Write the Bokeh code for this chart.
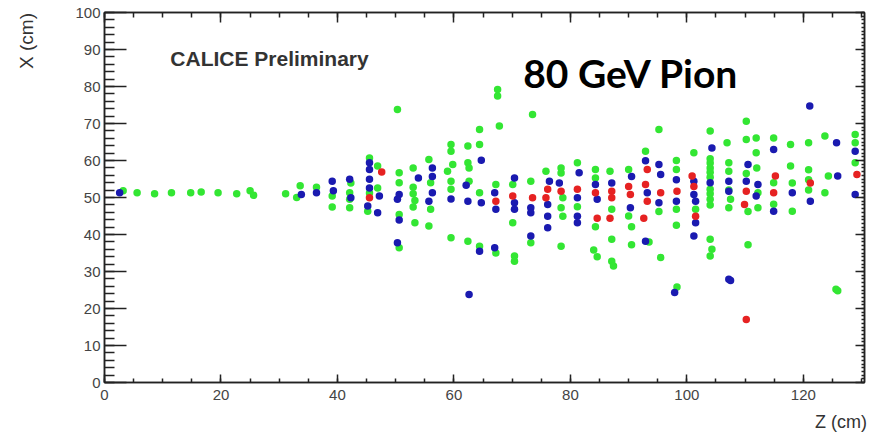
from bokeh.plotting import figure
from bokeh.models import (Range1d, SingleIntervalTicker, LinearAxis, Label,
                          CustomLabelingPolicy)
from bokeh.embed import file_html
from bokeh.resources import INLINE

# ---- data: hits (Z cm, X cm) per energy class ----
green_z = [3.2, 5.6, 8.6, 11.5, 14.8, 16.6, 19.5, 22.7, 25.0, 25.6, 31.1, 33.6, 33.0, 36.4,
           39.1, 39.1,
           42.3, 42.1, 42.1, 42.1,
           45.5, 45.5, 45.2,
           46.9, 46.9,
           50.3, 50.6, 50.6, 50.6, 50.6,
           53.0, 53.0, 53.0, 53.3, 53.0, 53.3,
           55.7, 56.0, 56.0, 55.7,
           59.5, 59.5, 59.8, 58.9, 59.5, 59.5, 59.5,
           62.4, 62.4, 62.6, 62.6, 62.4,
           64.4, 64.4, 64.4, 64.4,
           67.5, 67.5, 67.8, 67.2, 67.2,
           70.1, 70.1, 70.4, 70.4,
           73.5, 73.2, 73.2,
           75.8,
           78.4, 78.4, 78.7, 78.4, 78.7, 78.4,
           81.2, 81.2,
           84.3, 84.3, 84.3, 84.0, 84.6,
           86.8, 87.1, 87.1, 87.1, 87.4,
           90.0, 90.0, 90.5, 90.5,
           92.9, 93.5,
           95.2, 95.2, 95.5,
           98.2, 98.2, 98.2, 98.2, 98.3,
           101.2, 101.5,
           104.0, 104.0, 104.0, 104.0, 104.0, 104.0, 104.0, 104.3, 104.0, 104.0, 104.0, 104.0, 104.0,
           106.9, 107.2, 107.2, 107.5, 107.2, 107.2,
           110.2, 110.2, 110.5, 110.5, 110.2,
           111.9, 111.9, 112.2, 112.2, 112.0,
           114.9, 114.9, 114.9,
           117.8, 118.1, 118.1, 117.8,
           120.9, 120.9, 120.9, 120.9,
           123.7, 124.3, 123.7, 125.6, 125.9,
           128.9, 128.9, 128.9]
green_x = [51.8, 51.3, 51.0, 51.3, 51.3, 51.5, 51.3, 51.0, 51.8, 50.6, 51.0, 53.2, 50.0, 52.8,
           50.4, 47.4,
           53.9, 51.3, 49.5, 47.2,
           60.7, 51.2, 46.3,
           58.5, 52.6,
           73.8, 56.7, 54.0, 45.4, 36.4,
           58.0, 52.8, 51.0, 49.2, 47.4, 43.2,
           60.3, 54.0, 46.8, 42.3,
           64.3, 62.5, 58.9, 57.1, 54.4, 52.2, 39.1,
           63.9, 59.4, 58.0, 54.4, 38.2,
           68.4, 64.3, 51.3, 36.8,
           79.2, 77.4, 69.3, 53.5, 35.0,
           53.5, 43.2, 34.2, 32.8,
           72.4, 54.4, 37.8,
           57.1,
           58.0, 56.6, 49.9, 47.2, 44.9, 36.8,
           59.4, 47.5,
           57.6, 55.3, 42.1, 35.8, 34.0,
           57.1, 46.8, 38.7, 32.8, 31.5,
           57.6, 45.0, 42.1, 37.2,
           62.5, 38.0,
           68.4, 46.2, 33.8,
           60.0, 57.6, 46.8, 42.5, 25.8,
           62.1, 46.8,
           68.0, 60.5, 59.3, 58.0, 56.8, 55.5, 52.2, 36.0, 51.0, 49.5, 48.0, 38.7, 34.2,
           64.8, 59.4, 57.1, 49.5, 47.2, 52.0,
           70.6, 65.7, 46.2, 37.2, 56.5,
           66.1, 62.1, 47.2, 51.3, 58.0,
           66.1, 48.2, 54.0,
           64.3, 53.9, 46.3, 58.5,
           64.8, 54.8, 52.0, 57.5,
           66.6, 55.8, 51.3, 25.2, 24.8,
           64.8, 59.4, 67.0]

blue_z = [2.6, 33.8, 36.4, 39.1, 39.3,
          42.1, 42.3,
          45.5, 45.5, 45.5, 45.5, 45.2,
          47.2, 46.9,
          50.6, 50.3, 50.6, 50.3,
          53.9,
          56.3, 56.3, 56.3, 55.7,
          59.5,
          62.1, 62.4, 62.6,
          64.7, 64.7, 64.4,
          67.0, 67.2, 67.0,
          70.4, 70.4, 70.4,
          73.2, 73.2, 73.2,
          76.4, 76.1, 76.1, 76.1,
          78.1,
          81.5, 81.2, 81.2, 81.2,
          84.3, 84.6,
          87.1,
          90.5, 90.3,
          92.9, 93.2, 92.9,
          95.2, 95.5, 95.2,
          98.2, 98.2, 97.9,
          101.2, 101.2, 101.5, 101.5, 101.2,
          104.3, 104.0,
          107.2, 107.2, 107.2, 107.5,
          110.5, 110.2,
          112.2, 111.9,
          114.9, 114.9,
          118.1,
          121.1, 121.2,
          125.7, 125.9,
          128.9, 128.9]
blue_x = [51.3, 50.8, 51.3, 54.4, 51.8,
          54.9, 49.9,
          59.4, 57.6, 54.9, 52.6, 47.7,
          50.4, 45.9,
          50.8, 49.5, 43.9, 37.8,
          55.3,
          58.0, 55.7, 51.3, 49.0,
          49.6,
          53.3, 49.0, 23.8,
          60.1, 48.6, 35.5,
          51.3, 46.8, 36.4,
          55.3, 48.6, 46.8,
          47.2, 45.9, 39.6,
          54.4, 48.1, 44.9, 41.8,
          53.9,
          56.7, 49.9, 44.9, 43.2,
          53.5, 49.5,
          53.9,
          55.7, 47.2,
          59.9, 51.3, 38.2,
          58.9, 56.2, 48.6,
          54.8, 49.0, 24.3,
          54.4, 50.8, 49.0, 43.2, 39.6,
          63.4, 54.0,
          54.4, 51.7, 27.9, 27.6,
          58.9, 54.4,
          53.5, 50.4,
          63.0, 46.3,
          51.3,
          74.7, 49.0,
          64.8, 55.8,
          62.5, 50.8]

red_z = [45.5, 47.6, 67.2, 70.1, 73.5, 76.1, 75.8, 78.4, 81.2, 84.3, 84.6,
         87.1, 87.1, 86.8, 90.0, 90.3, 93.2, 92.9, 93.2, 92.6, 95.5, 98.3,
         100.9, 101.2, 101.5, 110.2, 109.9, 110.2, 115.2, 114.9, 121.2, 129.2]
red_x = [49.9, 56.9, 49.0, 50.4, 49.9, 52.2, 49.9, 51.7, 52.2, 51.3, 44.4,
         51.7, 49.9, 44.4, 53.0, 50.8, 57.6, 53.5, 49.0, 44.4, 51.3, 51.7,
         55.8, 53.0, 44.9, 51.7, 48.1, 17.0, 55.8, 51.3, 53.9, 56.2]

x_label = "Z (cm)"
y_label = "X (cm)"
title_small = "CALICE Preliminary"
title_big = "80 GeV Pion"

FONT = "Liberation Sans"

p = figure(width=869, height=433, output_backend="svg", toolbar_location=None,
           x_range=Range1d(0, 130.5), y_range=Range1d(0, 100),
           min_border_left=104, min_border_right=3, min_border_top=12, min_border_bottom=51)
p.grid.visible = False
p.outline_line_color = "#222222"
p.outline_line_width = 1.5
p.background_fill_color = "white"
p.border_fill_color = "white"

hide_labels = CustomLabelingPolicy(code="""
for (const i of indices) { indices.unset(i) }
return indices
""")

def style_axis(ax, interval, nminor, tin, mtin, labels=True, standoff=4):
    ax.ticker = SingleIntervalTicker(interval=interval, num_minor_ticks=nminor)
    ax.major_tick_in = tin
    ax.major_tick_out = 0
    ax.minor_tick_in = mtin
    ax.minor_tick_out = 0
    ax.axis_line_color = "#222222"
    ax.axis_line_width = 1.5
    ax.major_tick_line_color = "#222222"
    ax.major_tick_line_width = 1.5
    ax.minor_tick_line_color = "#222222"
    ax.minor_tick_line_width = 1.5
    ax.major_label_text_font = FONT
    ax.major_label_text_color = "#444444"
    if labels:
        ax.major_label_text_font_size = "15px"
        ax.major_label_standoff = standoff
    else:
        ax.major_label_text_font_size = "1px"
        ax.major_label_standoff = 0
        ax.major_label_policy = hide_labels

style_axis(p.yaxis[0], 10, 5, 22, 10, True, 4)
style_axis(p.xaxis[0], 20, 4, 8, 4, True, 7)

top = LinearAxis()
style_axis(top, 20, 4, 10, 5, False)
p.add_layout(top, "above")
right = LinearAxis()
style_axis(right, 10, 10, 9, 3, False)
p.add_layout(right, "right")

p.scatter(green_z, green_x, size=7.5, color="#33e633", line_color=None)
p.scatter(blue_z, blue_x, size=7.5, color="#1a1ab0", line_color=None)
p.scatter(red_z, red_x, size=7.5, color="#e62222", line_color=None)

p.add_layout(Label(x=11.3, y=87.5, text=title_small, text_font=FONT, text_font_style="bold",
                   text_font_size="21px", text_color="#333333", text_baseline="middle"))
p.add_layout(Label(x=71.9, y=83.7, text=title_big, text_font="Lato", text_font_style="bold",
                   text_font_size="39px", text_color="#000000", text_baseline="middle"))

# axis titles placed in the side panels (outside the frame)
p.add_layout(Label(x=-13.4, y=92.3, text=y_label, text_font=FONT, text_font_size="19px",
                   text_color="#333333", angle=1.5707963, text_align="center",
                   text_baseline="middle"), "left")
p.add_layout(Label(x=122.0, y=-10.6, text=x_label, text_font=FONT, text_font_size="18px",
                   text_color="#333333", text_baseline="middle"), "below")

open("out.html", "w").write(file_html(p, INLINE))
